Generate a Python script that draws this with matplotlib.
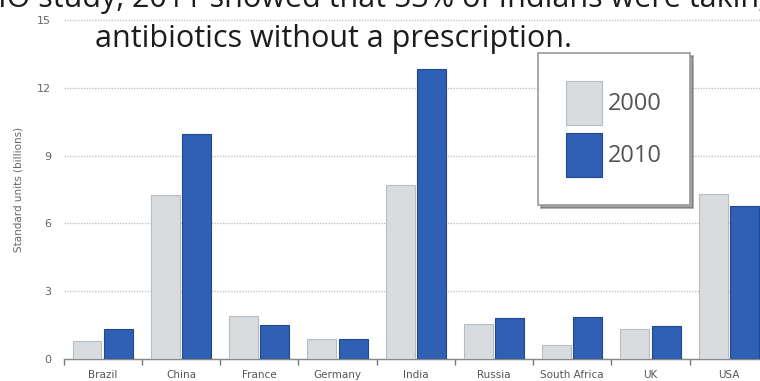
import numpy as np
import matplotlib.pyplot as plt
from matplotlib.ticker import FixedLocator

# antibiotic consumption by country, standard units (billions)
countries = ["Brazil", "China", "France", "Germany", "India",
             "Russia", "South Africa", "UK", "USA"]
units_2000 = [0.8, 7.25, 1.9, 0.9, 7.7, 1.55, 0.6, 1.33, 7.3]
units_2010 = [1.33, 9.95, 1.5, 0.9, 12.85, 1.8, 1.85, 1.46, 6.78]
years = ["2000", "2010"]
yticks = [0, 3, 6, 9, 12, 15]

W, H = 760, 381
fig = plt.figure(figsize=(W / 100, H / 100), dpi=100)
fig.patch.set_facecolor("white")

# axes box in pixels: left 63.5, right 768, bottom at y=359, top at y=20
ax = fig.add_axes([63.5 / W, (H - 359) / H, (768 - 63.5) / W, (359 - 20) / H])

x = np.arange(len(countries))
bw = 0.37
ax.bar(x - 0.2, units_2000, bw, color="#d8dcdf", edgecolor="#b7bcc1",
       linewidth=0.8, label=years[0], zorder=3)
ax.bar(x + 0.2, units_2010, bw, color="#2f60b4", edgecolor="#1f4792",
       linewidth=0.8, label=years[1], zorder=3)

ax.set_xlim(-0.5, len(countries) - 0.5)
ax.set_ylim(0, 15)
ax.set_yticks(yticks)
ax.set_yticklabels([str(t) for t in yticks])
ax.set_xticks(x)
ax.set_xticklabels(countries)
ax.xaxis.set_minor_locator(FixedLocator(np.arange(-0.5, len(countries), 1.0)))

ax.tick_params(axis="x", which="major", length=0, pad=8, labelsize=7.5,
               labelcolor="#555555")
ax.tick_params(axis="x", which="minor", length=4, width=1.0, color="#777777",
               direction="out")
ax.tick_params(axis="y", length=0, pad=9, labelsize=8, labelcolor="#666666")

for s in ["top", "right", "left"]:
    ax.spines[s].set_visible(False)
ax.spines["bottom"].set_color("#888888")
ax.spines["bottom"].set_linewidth(1.0)

ax.yaxis.grid(True, color="#c4c4c4", linestyle=(0, (1, 1)), linewidth=1.0,
              zorder=0)
ax.set_axisbelow(True)
for gl in ax.get_ygridlines():
    gl.set_clip_on(False)

ax.set_ylabel("Standard units (billions)", fontsize=7.5, color="#666666")
ax.yaxis.set_label_coords(-40 / (768 - 63.5), 0.5)

leg = ax.legend(loc="upper left", bbox_to_anchor=(538 / W, 1 - 53 / H),
                bbox_transform=fig.transFigure, borderaxespad=0,
                prop={"family": "Open Sans", "size": 17},
                handlelength=1.5, handleheight=2.45, labelspacing=0.36,
                handletextpad=0.25, borderpad=1.2, fancybox=False,
                shadow=True, framealpha=1, edgecolor="#9a9a9a")
for t in leg.get_texts():
    t.set_color("#555555")
leg.get_frame().set_linewidth(1.2)
leg.set_zorder(5)

# slide caption over the chart
cap_font = dict(family="Open Sans", fontsize=22, color="#1c1c1c",
                va="baseline", ha="left")
renderer = fig.canvas.get_renderer()
probe = fig.text(0, 0, "WHO ", **cap_font)
lead = probe.get_window_extent(renderer).width
probe.remove()
top_line = fig.text((38 - lead) / W, 1 - 7 / H,
                    "WHO study, 2011 showed that 53% of Indians were taking",
                    **cap_font)
top_line.set_fontstretch("expanded")
fig.text(95 / W, 1 - 47 / H, "antibiotics without a prescription.", **cap_font)

fig.savefig("out.png", dpi=100)
